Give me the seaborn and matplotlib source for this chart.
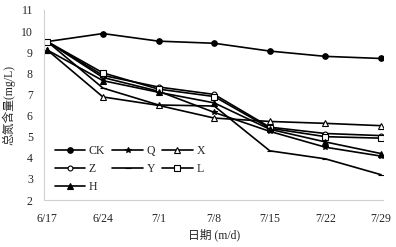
import matplotlib
matplotlib.use("Agg")
import matplotlib.pyplot as plt
import seaborn as sns
import numpy as np

# 日期和各处理的总氮含量
dates = ["6/17", "6/24", "7/1", "7/8", "7/15", "7/22", "7/29"]
ck = [9.5, 9.88, 9.52, 9.42, 9.05, 8.8, 8.7]
q = [9.5, 7.8, 7.15, 6.15, 5.25, 4.5, 4.08]
x_ = [9.1, 6.88, 6.48, 5.88, 5.72, 5.63, 5.52]
z = [9.5, 7.9, 7.35, 7.0, 5.45, 5.15, 5.05]
y_ = [9.5, 7.3, 6.5, 6.45, 4.33, 3.95, 3.2]
l = [9.5, 8.02, 7.25, 6.9, 5.4, 5.0, 4.93]
h = [9.1, 7.65, 7.1, 6.6, 5.35, 4.75, 4.2]

sns.set_style("white")
plt.rcParams["font.family"] = ["Liberation Serif", "Noto Sans CJK SC"]

fig, ax = plt.subplots(figsize=(3.96, 2.47), dpi=100)
fig.subplots_adjust(left=0.111, right=0.968, bottom=0.19, top=0.96)

pos = np.arange(len(dates))
series = [
    ("CK", ck, dict(marker="o", mfc="black")),
    ("Q", q, dict(marker="*", mfc="black")),
    ("X", x_, dict(marker="^", mfc="white")),
    ("Z", z, dict(marker="o", mfc="white", markersize=3.5)),
    ("Y", y_, dict(marker="_", mfc="black")),
    ("L", l, dict(marker="s", mfc="white")),
    ("H", h, dict(marker="^", mfc="black")),
]
for name, vals, kw in series:
    style = dict(markersize=4, mec="black", mew=0.8)
    style.update(kw)
    sns.lineplot(x=pos, y=vals, color="black", linewidth=1.2, ax=ax,
                 label=name, **style)

ax.set_xlim(-0.06, 6.04)
ax.set_ylim(2, 11)
ax.set_yticks(range(2, 12))
ax.set_xticks(pos)
ax.set_xticklabels(dates)
ax.tick_params(axis="x", length=3, color="#d0d0d0", labelsize=8.5, pad=6)
ax.tick_params(axis="y", length=0, labelsize=8.5, pad=8)

for s in ["top", "right"]:
    ax.spines[s].set_visible(False)
for s in ["left", "bottom"]:
    ax.spines[s].set_color("#d0d0d0")
    ax.spines[s].set_linewidth(0.8)

ax.set_xlabel("日期 (m/d)", fontsize=8.5, labelpad=3)
ax.set_ylabel("总氮含量(mg/L)", fontsize=8.5, labelpad=4)

# 图例按行排列：CK Q X / Z Y L / H
handles, labels = ax.get_legend_handles_labels()
order = ["CK", "Z", "H", "Q", "Y", "X", "L"]
idx = [labels.index(o) for o in order]
ax.legend([handles[i] for i in idx], [labels[i] for i in idx],
          loc="lower left", bbox_to_anchor=(0.0, -0.02), ncol=3, frameon=False,
          fontsize=8.5, handlelength=2.6, columnspacing=0.6, handletextpad=0.3,
          labelspacing=0.5)

plt.savefig("out.png", dpi=100)
